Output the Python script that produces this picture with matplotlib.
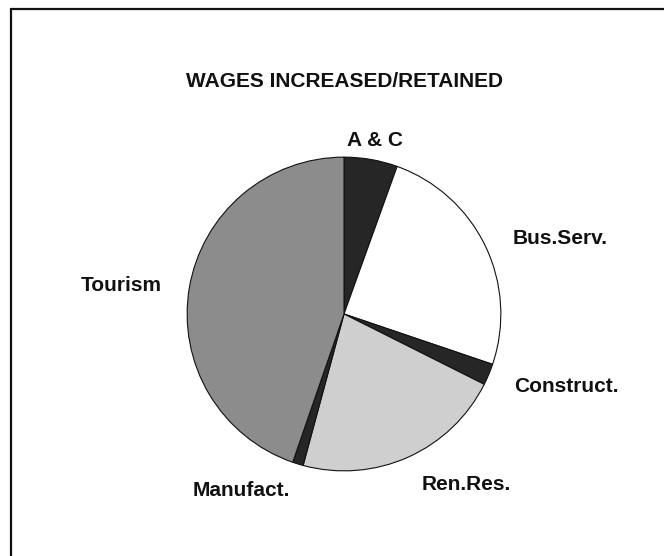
import matplotlib
matplotlib.use("Agg")
import matplotlib.pyplot as plt
from matplotlib.patches import Rectangle

categories = ["A & C", "Bus.Serv.", "Construct.", "Ren.Res.", "Manufact.", "Tourism"]
values = [5.5, 24.7, 2.2, 21.8, 1.1, 44.7]
colors = ["#262626", "#ffffff", "#262626", "#cfcfcf", "#262626", "#8c8c8c"]
title = "WAGES INCREASED/RETAINED"

plt.rcParams['font.family'] = ["Liberation Sans", "DejaVu Sans"]

W, H = 664, 556
fig = plt.figure(figsize=(W / 100, H / 100), dpi=100)

def fx(x):
    return x / W

def fy(y):
    return 1 - y / H

# frame
fig.patches.append(Rectangle((fx(11), fy(600)), fx(660), fy(9) - fy(600),
                             transform=fig.transFigure, fill=False,
                             edgecolor="#111111", linewidth=1.6))

ax = fig.add_axes([fx(184), fy(474), 320 / W, 320 / H])
ax.pie(values, colors=colors, startangle=90, counterclock=False, radius=1,
       wedgeprops=dict(edgecolor="#111111", linewidth=0.8))
ax.set_xlim(-1.02, 1.02)
ax.set_ylim(-1.02, 1.02)
ax.set_aspect("equal")
ax.axis("off")

fig.text(fx(344), fy(87), title, ha="center", va="baseline",
         fontsize=15, fontweight="bold", color="#111111")

label_pos = {
    "A & C": (375, 145.5),
    "Bus.Serv.": (560, 243.5),
    "Construct.": (566.5, 392),
    "Ren.Res.": (466, 489.5),
    "Manufact.": (241, 496.5),
    "Tourism": (121, 291),
}
for c in categories:
    x, y = label_pos[c]
    fig.text(fx(x), fy(y), c, ha="center", va="baseline",
             fontsize=15, fontweight="bold", color="#111111")

fig.savefig("out.png", dpi=100, facecolor="white")
